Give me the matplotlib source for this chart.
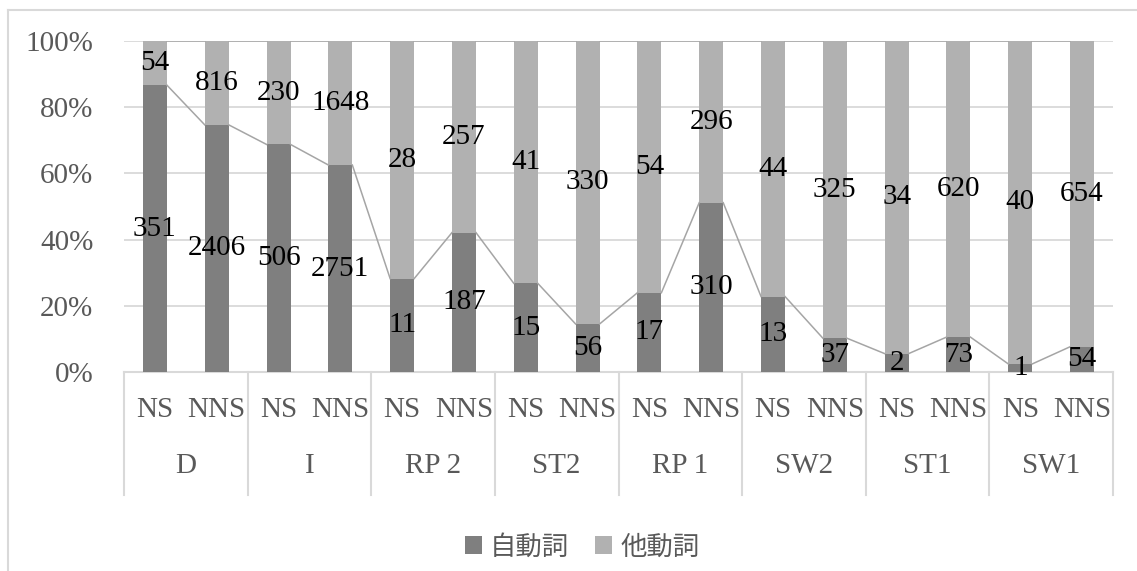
import matplotlib
matplotlib.use("Agg")
import matplotlib.pyplot as plt
from matplotlib.patches import Patch
from matplotlib.lines import Line2D
import matplotlib.transforms as mtransforms

# Verb-type counts per condition and speaker group
groups = ["D", "I", "RP 2", "ST2", "RP 1", "SW2", "ST1", "SW1"]
speakers = ["NS", "NNS"]
intransitive = [351, 2406, 506, 2751, 11, 187, 15, 56, 17, 310, 13, 37, 2, 73, 1, 54]   # 自動詞
transitive = [54, 816, 230, 1648, 28, 257, 41, 330, 54, 296, 44, 325, 34, 620, 40, 654]  # 他動詞
series_names = ["自動詞", "他動詞"]
yticks = [0, 0.2, 0.4, 0.6, 0.8, 1.0]

dark = "#7f7f7f"
light = "#b1b1b1"
grid_c = "#d9d9d9"
text_c = "#595959"
serif = ["Liberation Serif", "DejaVu Serif"]
fs = 21

W, H = 1137, 571
fig = plt.figure(figsize=(W / 100, H / 100), dpi=100)
fig.patch.set_facecolor("white")

# outer chart frame (top and left edges)
fig.add_artist(Line2D([8 / W, 1], [1 - 10 / H, 1 - 10 / H], color=grid_c, lw=1.5))
fig.add_artist(Line2D([8 / W, 8 / W], [0, 1 - 10 / H], color=grid_c, lw=1.5))

left, right, top, bottom = 124, 1113, 41, 372
ax = fig.add_axes([left / W, (H - bottom) / H, (right - left) / W, (bottom - top) / H])

n = len(intransitive)
x = list(range(n))
totals = [a + b for a, b in zip(intransitive, transitive)]
p_int = [a / t for a, t in zip(intransitive, totals)]
p_tr = [b / t for b, t in zip(transitive, totals)]
bw = 0.388

ax.set_xlim(-0.5, n - 0.5)
ax.set_ylim(0, 1)
for yv in yticks[1:]:
    ax.axhline(yv, color=grid_c, lw=1.3, zorder=0)

ax.bar(x, p_int, width=bw, color=dark, zorder=2)
ax.bar(x, p_tr, width=bw, bottom=p_int, color=light, zorder=2)

# series lines between adjacent bars
for i in range(n - 1):
    ax.plot([x[i] + bw / 2, x[i + 1] - bw / 2], [p_int[i], p_int[i + 1]],
            color="#a5a5a5", lw=1.1, zorder=3)
    ax.plot([x[i] + bw / 2, x[i + 1] - bw / 2], [1, 1],
            color="#a5a5a5", lw=1.1, zorder=3)

# data labels centred in each segment
for i in range(n):
    ax.text(x[i], p_int[i] / 2, str(intransitive[i]), ha="center", va="center",
            fontsize=fs, family=serif, color="black", zorder=4, clip_on=False)
    ax.text(x[i], p_int[i] + p_tr[i] / 2, str(transitive[i]), ha="center", va="center",
            fontsize=fs, family=serif, color="black", zorder=4, clip_on=False)

for s in ax.spines.values():
    s.set_visible(False)
ax.set_yticks(yticks)
ax.set_yticklabels([f"{int(round(v * 100))}%" for v in yticks], family=serif,
                   fontsize=fs, color=text_c)
ax.tick_params(axis="y", length=0, pad=22)
ax.set_xticks([])

# multi-level category axis
trans = mtransforms.blended_transform_factory(ax.transData, ax.transAxes)
ax.plot([-0.5, n - 0.5], [0, 0], transform=trans, color=grid_c, lw=1.5, clip_on=False, zorder=1)
sep_bottom = -123 / 331
for k in range(len(groups) + 1):
    xs = -0.5 + 2 * k
    ax.plot([xs, xs], [0, sep_bottom], transform=trans, color=grid_c, lw=1.5, clip_on=False)
for i in range(n):
    ax.text(x[i], -38 / 331, speakers[i % 2], transform=trans, ha="center", va="center",
            fontsize=fs, family=serif, color=text_c)
for k, g in enumerate(groups):
    ax.text(2 * k + 0.5, -94 / 331, g, transform=trans, ha="center", va="center",
            fontsize=fs, family=serif, color=text_c)

handles = [Patch(facecolor=dark, edgecolor="none"), Patch(facecolor=light, edgecolor="none")]
fig.legend(handles, series_names, loc="center", bbox_to_anchor=(582 / W, 1 - 547 / H),
           ncol=2, frameon=False, handlelength=0.65, handleheight=0.65, handletextpad=0.3,
           columnspacing=1.0, prop={"family": ["Noto Sans CJK JP", "DejaVu Sans"], "size": 19},
           labelcolor=text_c)

fig.savefig("out.png", dpi=100, facecolor="white")
